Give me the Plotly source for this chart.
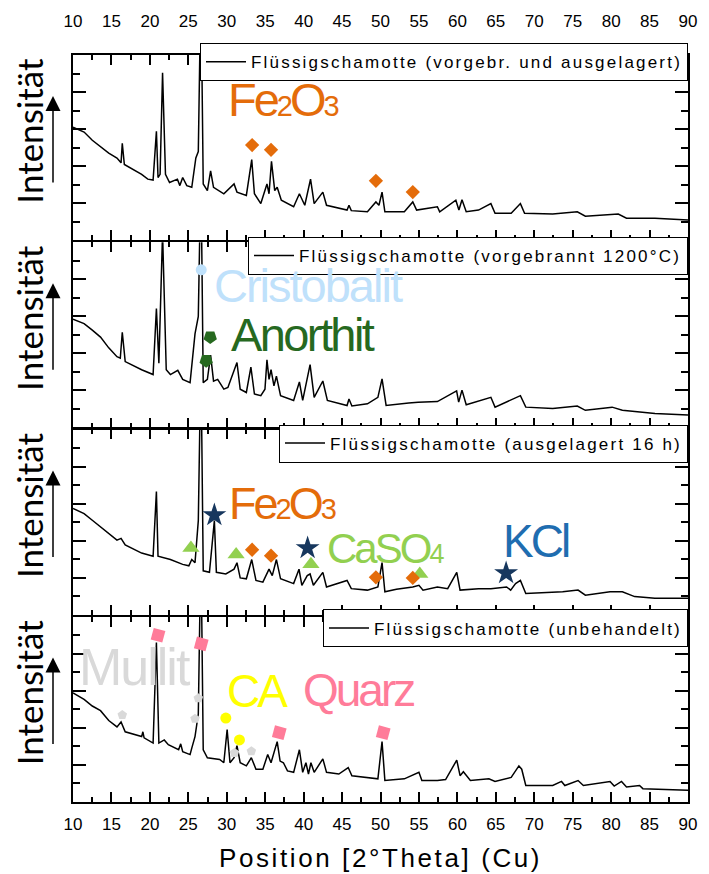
import plotly.graph_objects as go
from plotly.subplots import make_subplots

# ---------------- data (2Theta in degrees, intensity in panel units 0..10) ----------------
p1_x = [10.0, 11.44, 12.51, 13.58, 14.65, 15.72, 16.25, 16.41, 16.68, 18.93, 19.73, 20.42, 20.85, 21.06, 21.33,
        21.65, 22.03, 22.56, 23.58, 23.90, 24.27, 24.80, 25.45, 25.98, 26.30, 26.64, 26.94, 27.48, 27.90, 28.28,
        29.62, 30.95, 31.33, 32.55, 33.25, 33.60, 34.43, 35.23, 35.50, 35.82, 36.24, 36.56, 37.10, 38.70, 39.45,
        40.15, 40.90, 41.37, 42.50, 42.98, 45.65, 45.90, 46.20, 48.30, 49.40, 49.80, 50.20, 50.57, 53.10, 54.20,
        54.70, 57.40, 57.70, 59.80, 60.20, 60.60, 61.15, 62.75, 64.36, 64.90, 67.00, 68.20, 68.74, 72.40, 75.60,
        76.65, 80.93, 82.00, 85.70, 90.00]
p1_y = [6.10, 5.84, 5.40, 5.05, 4.70, 4.44, 4.18, 5.23, 4.09, 3.56, 3.30, 3.25, 5.88, 3.39, 3.56,
        9.04, 3.56, 3.12, 3.30, 2.95, 3.39, 2.95, 2.86, 4.44, 4.79, 14.0, 3.04, 2.68, 3.74, 2.86,
        2.51, 3.04, 2.60, 2.42, 4.35, 2.51, 1.98, 3.04, 2.51, 4.26, 2.68, 2.86, 2.16, 1.81, 2.51,
        1.89, 3.30, 1.98, 2.60, 1.89, 1.63, 1.89, 1.60, 1.54, 2.07, 1.89, 2.60, 1.54, 1.54, 2.07,
        1.63, 1.81, 1.54, 2.16, 1.63, 2.19, 1.54, 1.63, 1.98, 1.46, 1.46, 1.98, 1.46, 1.42, 1.54,
        1.30, 1.42, 1.19, 1.19, 1.10]

p2_x = [10.0, 11.44, 12.51, 13.58, 14.65, 15.72, 16.15, 16.41, 16.79, 18.93, 20.42, 20.85, 21.17, 21.65, 22.13,
        22.67, 23.63, 24.27, 25.23, 25.87, 26.30, 26.64, 26.94, 27.48, 27.90, 28.28, 28.82, 29.62, 30.15, 30.95,
        31.33, 31.75, 32.55, 33.14, 33.60, 34.43, 34.97, 35.23, 35.50, 35.76, 36.14, 36.46, 37.00, 38.70, 39.45,
        39.88, 40.84, 41.37, 42.50, 43.09, 45.65, 45.90, 46.28, 48.30, 49.66, 50.20, 50.73, 53.67, 54.90, 57.40,
        59.90, 60.17, 60.60, 61.15, 64.36, 64.90, 68.20, 68.90, 72.40, 75.60, 76.65, 80.13, 81.46, 85.70, 90.00]
p2_y = [5.84, 5.61, 5.26, 4.88, 4.30, 3.82, 3.74, 5.14, 3.56, 3.12, 2.86, 6.42, 3.47, 10.5, 3.12,
        2.86, 3.09, 2.60, 2.42, 5.05, 6.00, 14.0, 2.42, 2.60, 3.91, 2.50, 2.60, 2.07, 2.16, 3.04,
        3.51, 2.07, 1.89, 3.26, 1.81, 1.72, 2.07, 3.65, 2.60, 3.12, 2.25, 2.77, 1.72, 1.46, 2.46,
        1.46, 3.39, 1.63, 2.51, 1.46, 1.19, 1.54, 1.16, 1.28, 1.63, 2.63, 1.19, 1.33, 1.37, 1.40,
        1.98, 1.37, 2.02, 1.23, 1.63, 1.10, 1.72, 1.10, 1.02, 1.16, 0.93, 1.10, 0.93, 0.75, 0.67]

p3_x = [10.0, 11.44, 12.51, 13.58, 14.65, 15.72, 16.25, 16.79, 18.93, 20.42, 20.85, 21.06, 22.67, 24.27, 25.07,
        25.45, 25.87, 26.30, 26.64, 26.94, 27.75, 28.39, 28.65, 29.88, 30.95, 31.33, 31.75, 32.55, 33.25, 33.80,
        34.70, 35.50, 35.92, 36.46, 37.00, 38.70, 39.40, 39.77, 40.47, 40.84, 41.27, 42.50, 42.98, 45.65, 46.20,
        48.30, 49.66, 50.20, 50.57, 52.07, 54.20, 55.00, 55.53, 57.40, 58.74, 59.92, 60.35, 62.75, 64.36, 66.40,
        66.93, 67.57, 68.20, 68.90, 73.70, 75.70, 76.65, 79.86, 81.46, 83.06, 85.70, 90.00]
p3_y = [5.74, 5.46, 5.10, 4.73, 4.36, 4.03, 4.12, 3.77, 3.33, 3.16, 6.65, 3.16, 2.98, 2.72, 2.64,
        2.98, 2.81, 5.08, 14.0, 2.37, 2.29, 5.08, 2.29, 2.20, 2.46, 2.81, 1.99, 1.94, 2.98, 1.85,
        1.76, 2.46, 2.11, 2.98, 1.94, 1.68, 2.46, 1.59, 2.11, 2.20, 1.59, 2.29, 1.50, 1.85, 1.41,
        1.33, 1.50, 2.81, 1.24, 1.38, 1.50, 1.59, 1.33, 1.50, 1.41, 2.29, 1.33, 1.41, 1.41, 1.50,
        1.33, 1.68, 1.85, 1.15, 1.24, 1.33, 1.06, 1.24, 1.24, 0.98, 0.89, 0.89]

p4_x = [10.0, 11.44, 12.51, 13.58, 14.65, 15.72, 16.25, 16.79, 18.93, 19.09, 19.25, 20.42, 20.85, 21.17, 21.87,
        22.40, 23.74, 24.01, 24.27, 25.23, 25.45, 25.87, 26.30, 26.64, 26.94, 27.48, 29.08, 29.62, 30.05, 30.42,
        30.95, 31.33, 31.75, 32.55, 33.20, 33.80, 34.70, 35.33, 35.76, 36.56, 36.94, 37.37, 37.90, 38.70, 39.45,
        39.88, 40.30, 40.63, 40.95, 41.37, 42.50, 42.98, 44.58, 45.80, 46.28, 47.80, 49.66, 50.20, 50.57, 53.10,
        55.00, 55.38, 57.40, 58.47, 59.92, 60.35, 60.78, 61.69, 64.10, 64.90, 67.00, 68.00, 68.37, 68.90, 72.40,
        73.55, 73.98, 75.70, 76.39, 79.86, 80.40, 81.35, 82.00, 83.70, 84.13, 90.00]
p4_y = [5.89, 5.54, 5.18, 4.93, 4.40, 4.05, 4.32, 3.79, 3.53, 3.79, 3.46, 3.18, 8.61, 3.18, 3.35,
        3.09, 2.82, 3.14, 2.72, 2.56, 2.91, 3.53, 4.75, 14.0, 2.82, 2.39, 2.30, 2.12, 3.91, 2.12,
        2.39, 3.04, 2.12, 1.95, 2.39, 1.77, 1.77, 2.56, 2.12, 3.26, 2.21, 2.12, 1.68, 1.60, 2.82,
        1.60, 2.12, 1.51, 2.12, 1.60, 2.33, 1.60, 1.51, 1.86, 1.42, 1.33, 1.25, 3.26, 1.16, 1.25,
        1.60, 1.16, 1.16, 1.21, 2.26, 1.42, 1.63, 1.16, 1.25, 1.11, 1.33, 1.95, 1.77, 0.89, 0.89,
        1.11, 0.89, 1.16, 0.89, 1.11, 0.86, 1.11, 0.81, 0.89, 0.72, 0.63]

sample_names = ["Flüssigschamotte (vorgebr. und ausgelagert)",
                "Flüssigschamotte (vorgebrannt 1200°C)",
                "Flüssigschamotte (ausgelagert 16 h)",
                "Flüssigschamotte (unbehandelt)"]

# phase markers
fe1_x = [33.3, 35.76, 49.4, 54.2];  fe1_y = [5.14, 4.88, 3.21, 2.60]
cris_x = [26.68];                   cris_y = [8.51]
anor_x = [27.85, 27.32];            anor_y = [4.88, 3.61]
kcl_x = [28.39, 40.52, 66.34];      kcl_y = [5.38, 3.60, 2.25]
caso_x = [25.34, 31.22, 40.95, 55.11]; caso_y = [3.60, 3.25, 2.72, 2.20]
fe3_x = [33.3, 35.76, 49.4, 54.2];  fe3_y = [3.51, 3.19, 2.02, 1.99]
quarz_x = [21.06, 26.68, 36.83, 50.35]; quarz_y = [9.0, 8.53, 3.74, 3.74]
mull_x = [16.41, 26.3, 25.87, 31.0, 33.2]; mull_y = [4.70, 5.60, 4.49, 2.65, 2.74]
ca_x = [29.88, 31.65];              ca_y = [4.53, 3.35]

xticks = list(range(10, 95, 5))

C_FE = "#E46C0A"; C_CRIS = "#BFE1FB"; C_ANOR = "#26691F"; C_CASO = "#92D050"
C_KCL_T = "#1F6DB0"; C_KCL_M = "#17375E"; C_MULL = "#D9D9D9"; C_CA = "#FFFF00"; C_QU = "#FF7C99"

ARIAL = "Arial, Liberation Sans, sans-serif"
H = 761.0

fig = make_subplots(rows=4, cols=1, shared_xaxes=True, vertical_spacing=2 / H)

series = [(p1_x, p1_y), (p2_x, p2_y), (p3_x, p3_y), (p4_x, p4_y)]
legnames = ["legend", "legend2", "legend3", "legend4"]
for i, (xs, ys) in enumerate(series):
    fig.add_trace(go.Scatter(x=xs, y=ys, mode="lines",
                             name='<span style="letter-spacing:2.2px">' + sample_names[i] + '</span>',
                             line=dict(color="black", width=1.5), legend=legnames[i]), row=i + 1, col=1)

def mk(xs, ys, sym, color, size, row, angle=0):
    fig.add_trace(go.Scatter(x=xs, y=ys, mode="markers", showlegend=False, hoverinfo="skip",
                             marker=dict(symbol=sym, color=color, size=size, angle=angle,
                                         line=dict(width=0))), row=row, col=1)

mk(fe1_x, fe1_y, "diamond", C_FE, 11, 1)
mk(cris_x, cris_y, "circle", C_CRIS, 11, 2)
mk(anor_x, anor_y, "pentagon", C_ANOR, 14, 2, angle=180)
mk(caso_x, caso_y, "triangle-up", C_CASO, 15, 3)
mk(fe3_x, fe3_y, "diamond", C_FE, 11, 3)
mk(kcl_x, kcl_y, "star", C_KCL_M, 18, 3)
mk(quarz_x, quarz_y, "square", C_QU, 12, 4, angle=15)
mk(mull_x, mull_y, "pentagon", C_MULL, 10, 4)
mk(ca_x, ca_y, "circle", C_CA, 11, 4)

# axes
for r in range(1, 5):
    fig.update_xaxes(range=[10, 90], tickmode="array", tickvals=xticks, ticks="inside", ticklen=10,
                     tickwidth=2, tickcolor="black", showline=True, linewidth=2, linecolor="black",
                     mirror="ticks", showgrid=False, zeroline=False,
                     minor=dict(tickmode="linear", tick0=10, dtick=2.5, ticks="inside", ticklen=5,
                                tickwidth=2, tickcolor="black", showgrid=False),
                     tickfont=dict(family=ARIAL, size=17, color="black"), row=r, col=1)
    fig.update_yaxes(range=[0, 10], tickmode="linear", tick0=0, dtick=2, ticks="inside", ticklen=13,
                     tickwidth=2, tickcolor="black", showline=True, linewidth=2, linecolor="black",
                     mirror="ticks", showgrid=False, zeroline=False, showticklabels=False,
                     minor=dict(tickmode="linear", tick0=0, dtick=1, ticks="inside", ticklen=7,
                                tickwidth=2, tickcolor="black", showgrid=False), row=r, col=1)

fig.update_xaxes(side="top", showticklabels=True, ticklabelstandoff=19, row=1, col=1)
fig.update_xaxes(showticklabels=False, row=2, col=1)
fig.update_xaxes(showticklabels=False, row=3, col=1)
fig.update_xaxes(showticklabels=True, ticklabelstandoff=6, row=4, col=1)

ann = []
# axis title
ann.append(dict(text='<span style="letter-spacing:2.6px">Position [2°Theta] (Cu)</span>',
                xref="paper", yref="paper", x=0.5, y=0, yshift=-56,
                xanchor="center", yanchor="middle", showarrow=False,
                font=dict(family=ARIAL, size=26, color="black")))
# y labels + arrows
for r in range(1, 5):
    yd = "y domain" if r == 1 else f"y{r} domain"
    ann.append(dict(text="Intensität", xref="paper", yref=yd, x=0, xshift=-44, y=0.5, yshift=17,
                    xanchor="center", yanchor="middle", textangle=-90, showarrow=False,
                    font=dict(family="Lato, Open Sans, sans-serif", size=35, color="black")))
    ann.append(dict(text="", xref="paper", yref=yd, x=0, xshift=-20, y=1 - 42 / 190.25,
                    showarrow=True, ax=0, ay=88, standoff=0, startstandoff=0,
                    arrowhead=2, arrowsize=2, arrowwidth=1.5,
                    arrowcolor="black", font=dict(size=1)))

def lab(text, x, y, row, color, size, ls=-3):
    yr = "y" if row == 1 else f"y{row}"
    xr = "x" if row == 1 else f"x{row}"
    ann.append(dict(text=f'<span style="letter-spacing:{ls}px">{text}</span>', x=x, y=y, xref=xr, yref=yr,
                    showarrow=False, xanchor="center", yanchor="middle", borderpad=0,
                    font=dict(family=ARIAL, size=size, color=color)))

fe_txt = 'Fe<span style="font-size:29px">2</span>O<span style="font-size:29px">3</span>'
lab(fe_txt, 37.4, 7.6, 1, C_FE, 47)
lab("Cristobalit", 40.6, 7.66, 2, C_CRIS, 47, -2.0)
lab("Anorthit", 39.9, 5.0, 2, C_ANOR, 47, -2.6)
lab(fe_txt, 37.2, 6.0, 3, C_FE, 45)
lab('CaSO<span style="font-size:27px">4</span>', 50.6, 3.6, 3, C_CASO, 42)
lab("KCl", 70.2, 3.96, 3, C_KCL_T, 46)
lab("Mullit", 18.1, 7.26, 4, C_MULL, 52, -2)
lab("CA", 33.95, 6.0, 4, C_CA, 46)
lab("Quarz", 47.1, 6.02, 4, C_QU, 46)

leg_common = dict(x=1, xanchor="right", yanchor="top", bgcolor="white", bordercolor="black",
                  borderwidth=1, font=dict(family=ARIAL, size=17, color="black"),
                  itemwidth=40, tracegroupgap=0)
fig.update_layout(
    width=709, height=874, margin=dict(l=73, r=14, t=41, b=72),
    paper_bgcolor="white", plot_bgcolor="white", annotations=ann,
    legend=dict(y=1.0 + 12 / H, **leg_common),
    legend2=dict(y=0.75 + 5 / H, **leg_common),
    legend3=dict(y=0.5 + 4 / H, **leg_common),
    legend4=dict(y=0.25 + 6 / H, **leg_common),
)

fig.write_html("out.html")
